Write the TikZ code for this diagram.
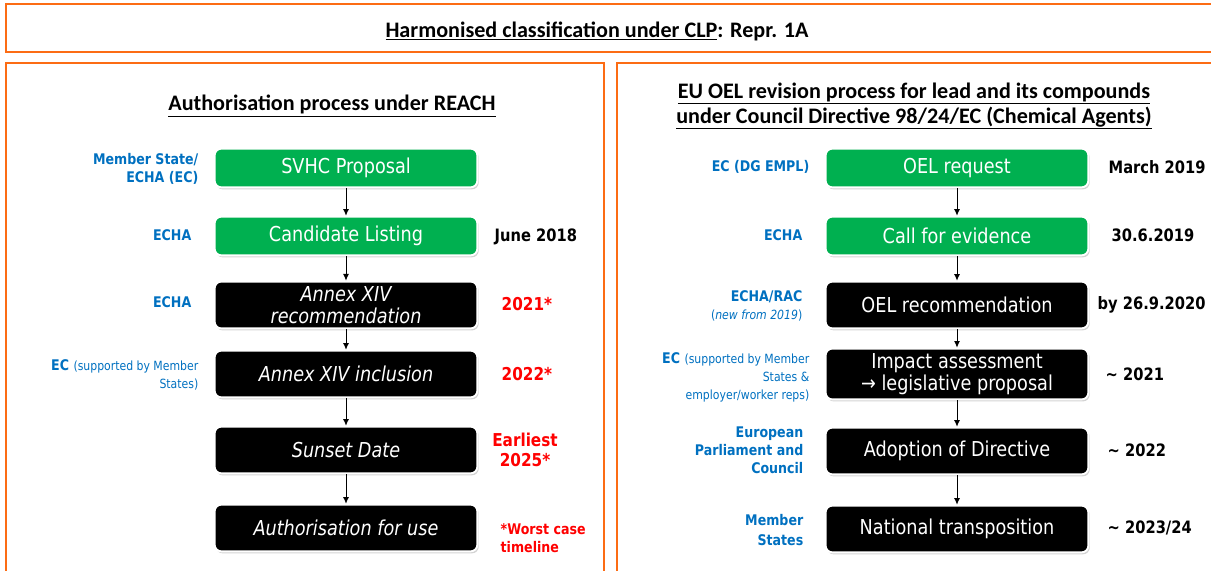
\documentclass[tikz,border=0pt]{standalone}
\usepackage{fontspec}
\setmainfont{DejaVu Sans}[FakeStretch=0.86]
\newfontfamily\titlefont{Carlito}
\usepackage{xcolor}
\usetikzlibrary{arrows.meta,shadows}

\definecolor{frameorange}{RGB}{252,108,20}
\definecolor{stepgreen}{RGB}{0,176,80}
\definecolor{actorblue}{RGB}{0,112,192}
\definecolor{dateRed}{RGB}{255,0,0}
% thin print for the remarks next to an actor
\newcommand{\remark}[1]{{\mdseries\fontsize{9.5}{13.5}\selectfont #1}}

\begin{document}
\begin{tikzpicture}[x=0.75pt, y=-0.75pt,
      frame/.style={draw=frameorange, line width=2.2pt},
      heading/.style={align=center, font=\titlefont\bfseries\fontsize{16.6}{19}\selectfont},
      stepbox/.style={rounded corners=5pt, draw=white, line width=1.4pt,
                  minimum width=197pt, align=center, text=white,
                  font=\fontsize{15.4}{17}\selectfont,
                  drop shadow={shadow xshift=1pt, shadow yshift=-1.5pt, opacity=0.35}},
      greenstep/.style={stepbox, fill=stepgreen, minimum height=29pt},
      blackstep/.style={stepbox, fill=black, minimum height=35pt},
      actor/.style={anchor=east, align=right, text=actorblue,
                  font=\bfseries\fontsize{11}{13.5}\selectfont},
      date/.style={anchor=west, align=left, font=\bfseries\fontsize{12.8}{14}\selectfont},
      late/.style={date, text=dateRed, font=\bfseries\fontsize{13.3}{14.5}\selectfont},
      link/.style={-{Latex[length=5pt,width=4.5pt]}, line width=0.7pt}
    ]
      \useasboundingbox (0,0) rectangle (1211,571);
      \clip (0,0) rectangle (1211,571);

      % frames
      \draw[frame] (6,4) rectangle (1230,52);
      \draw[frame] (6,63) rectangle (604,600);
      \draw[frame] (617,63) rectangle (1230,600);

      % headings
      \node[heading] (clp) at (597,31)
            {\underline{Harmonised classification under CLP}: Repr. 1A};
      \node[heading] (reach) at (332,106)
            {\underline{Authorisation process under REACH}};
      \node[heading, font=\titlefont\bfseries\fontsize{16.6}{18.8}\selectfont] (oel) at (914,106)
            {\underline{EU OEL revision process for lead and its compounds}\\
             \underline{under Council Directive 98/24/EC (Chemical Agents)}};

      % REACH steps
      \node[greenstep] (svhc)   at (346,168) {SVHC Proposal};
      \node[greenstep] (cand)   at (346,236) {Candidate Listing};
      \node[blackstep, font=\itshape\fontsize{15.4}{17}\selectfont] (recom) at (346,305)
            {Annex XIV\\recommendation};
      \node[blackstep] (incl)   at (346,374) {\itshape Annex XIV inclusion};
      \node[blackstep] (sunset) at (346,450) {\itshape Sunset Date};
      \node[blackstep] (auth)   at (346,528) {\itshape Authorisation for use};

      \draw[link] (svhc) -- (cand);
      \draw[link] (cand) -- (recom);
      \draw[link] (recom) -- (incl);
      \draw[link] (incl) -- (sunset);
      \draw[link] (sunset) -- (auth);

      \node[actor] (msecha) at (203,169) {Member State/\\ECHA (EC)};
      \node[actor] (echaA)  at (196,235) {ECHA};
      \node[actor] (echaB)  at (196,302) {ECHA};
      \node[actor] (ecA)    at (203,375) {EC \remark{(supported by Member}\\\remark{States)}};

      \node[date] (june) at (490,237) {June 2018};
      \node[late] (y21)  at (497,304) {2021*};
      \node[late] (y22)  at (497,374) {2022*};
      \node[late, anchor=center, align=center] (y25) at (525,450) {Earliest\\2025*};
      \node[late, font=\bfseries\fontsize{11}{13.5}\selectfont] (worst) at (496,538)
            {*Worst case\\timeline};

      % OEL steps
      \node[greenstep] (req)    at (957,168) {OEL request};
      \node[greenstep] (call)   at (957,236) {Call for evidence};
      \node[blackstep] (oelrec) at (957,305) {OEL recommendation};
      \node[blackstep] (impact) at (957,374) {Impact assessment\\→ legislative proposal};
      \node[blackstep] (adopt)  at (957,451) {Adoption of Directive};
      \node[blackstep] (transp) at (957,529) {National transposition};

      \draw[link] (req) -- (call);
      \draw[link] (call) -- (oelrec);
      \draw[link] (oelrec) -- (impact);
      \draw[link] (impact) -- (adopt);
      \draw[link] (adopt) -- (transp);

      \node[actor] (empl) at (814,167) {EC (DG EMPL)};
      \node[actor] (echaC) at (807,235) {ECHA};
      \node[actor] (rac) at (807,306) {ECHA/RAC\\\remark{(\itshape new from 2019\/\upshape)}};
      \node[actor] (ecB) at (814,377) {EC \remark{(supported by Member}\\\remark{States \&}\\\remark{employer/worker reps)}};
      \node[actor] (parl) at (808,450) {European\\Parliament and\\Council};
      \node[actor, font=\bfseries\fontsize{11}{14.5}\selectfont] (ms) at (808,530) {Member\\States};

      \node[date] (mar) at (1104,167) {March 2019};
      \node[date] (jun19) at (1107,235) {30.6.2019};
      \node[date] (sep20) at (1093,305) {by 26.9.2020};
      \node[date] (y21b) at (1101,374) {\textasciitilde{} 2021};
      \node[date] (y22b) at (1103,450) {\textasciitilde{} 2022};
      \node[date] (y23) at (1103,528) {\textasciitilde{} 2023/24};
    \end{tikzpicture}
\end{document}
